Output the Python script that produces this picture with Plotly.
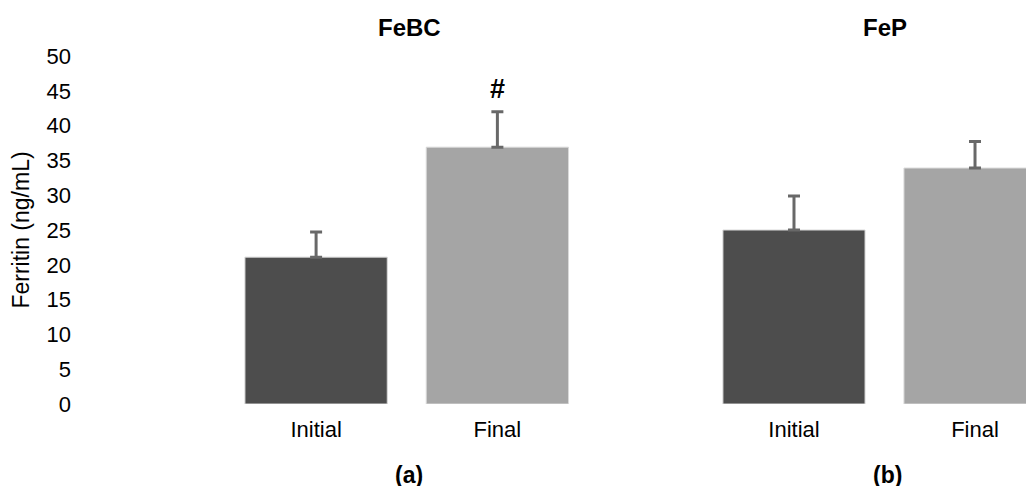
import plotly.graph_objects as go

conditions = ["Initial", "Final"]
febc_values = [21.1, 36.9]
febc_err = [3.6, 5.1]
fep_values = [25.0, 33.9]
fep_err = [4.9, 3.8]
panel_titles = ["FeBC", "FeP"]
panel_labels = ["(a)", "(b)"]
y_ticks = [0, 5, 10, 15, 20, 25, 30, 35, 40, 45, 50]
bar_colors = ["#4d4d4d", "#a5a5a5"]

FONT = "Liberation Sans, Arial, Helvetica, sans-serif"

fig = go.Figure()
for vals, errs, xa in [(febc_values, febc_err, "x"), (fep_values, fep_err, "x2")]:
    fig.add_trace(go.Bar(
        x=conditions, y=vals, xaxis=xa, yaxis="y",
        marker=dict(color=bar_colors, line=dict(color="#d9d9d9", width=1)),
        error_y=dict(type="data", array=errs, arrayminus=[0, 0], symmetric=False,
                     color="#686868", thickness=3, width=6),
        showlegend=False, cliponaxis=False,
    ))

fig.update_layout(
    width=1034, height=486,
    margin=dict(l=72, r=0, t=48, b=90),
    paper_bgcolor="white", plot_bgcolor="white",
    font=dict(family=FONT, size=22, color="#000000"),
    bargap=0.215,
    xaxis=dict(domain=[0.1512, 0.5281], range=[-0.5, 1.5], showline=False, showgrid=False,
               zeroline=False, ticks="", tickfont=dict(size=22), anchor="y",
               ticklabelstandoff=10),
    xaxis2=dict(domain=[0.6481, 1.0], range=[-0.5, 1.370], showline=False, showgrid=False,
                zeroline=False, ticks="", tickfont=dict(size=22), anchor="y",
                ticklabelstandoff=10),
    yaxis=dict(range=[0, 50], tickvals=y_ticks, showline=False, showgrid=False, zeroline=False,
               anchor="free", position=0,
               ticks="", tickfont=dict(size=22), ticklabelstandoff=9,
               title=dict(text="Ferritin (ng/mL)", font=dict(size=23), standoff=10)),
)

title_x = [0.342, 0.8368]
label_x = [0.342, 0.8389]
for i, (t, lab) in enumerate(zip(panel_titles, panel_labels)):
    fig.add_annotation(text=f"<b>{t}</b>", xref="paper", yref="paper",
                       x=title_x[i], y=(404 - 27) / 348,
                       showarrow=False, font=dict(size=24), xanchor="center", yanchor="middle")
    fig.add_annotation(text=f"<b>{lab}</b>", xref="paper", yref="paper",
                       x=label_x[i], y=(404 - 475) / 348,
                       showarrow=False, font=dict(size=23), xanchor="center", yanchor="middle")

fig.add_annotation(text="<b>#</b>", xref="x", yref="y", x="Final", y=45.3,
                   showarrow=False, font=dict(size=27), xanchor="center", yanchor="middle")

fig.write_html("out.html")
